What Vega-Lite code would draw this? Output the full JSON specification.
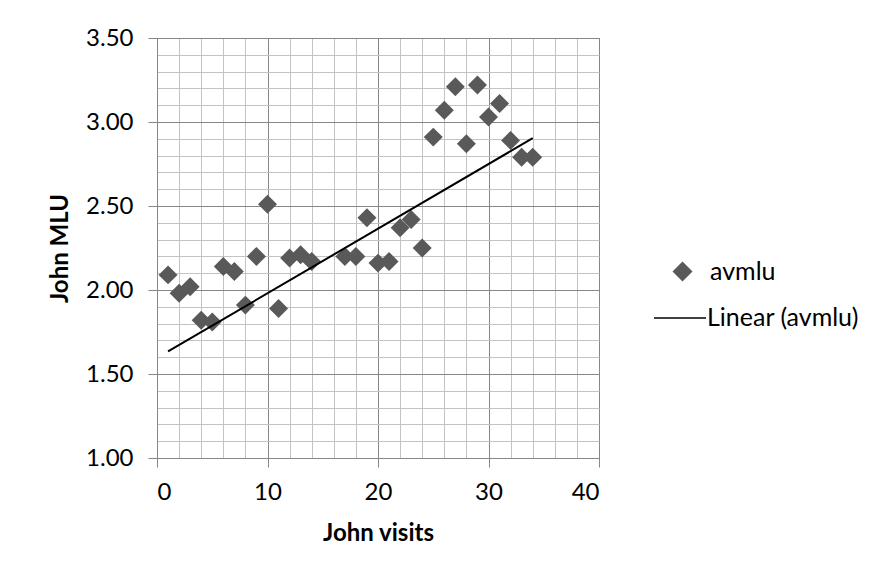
{
  "$schema": "https://vega.github.io/schema/vega-lite/v6.json",
  "autosize": {"type": "none"},
  "padding": {"left": 157, "top": 38, "right": 284, "bottom": 120},
  "width": 442,
  "height": 420,
  "background": "white",
  "config": {
    "font": "Lato",
    "view": {"stroke": "#878787", "strokeWidth": 1},
    "axis": {"labelColor": "black", "titleColor": "black", "labelFont": "Lato", "titleFont": "Lato"}
  },
  "data": {
    "values": [
      {"visit": 1, "avmlu": 2.09},
      {"visit": 2, "avmlu": 1.98},
      {"visit": 3, "avmlu": 2.02},
      {"visit": 4, "avmlu": 1.82},
      {"visit": 5, "avmlu": 1.81},
      {"visit": 6, "avmlu": 2.14},
      {"visit": 7, "avmlu": 2.11},
      {"visit": 8, "avmlu": 1.91},
      {"visit": 9, "avmlu": 2.20},
      {"visit": 10, "avmlu": 2.51},
      {"visit": 11, "avmlu": 1.89},
      {"visit": 12, "avmlu": 2.19},
      {"visit": 13, "avmlu": 2.21},
      {"visit": 14, "avmlu": 2.17},
      {"visit": 15, "avmlu": 0},
      {"visit": 16, "avmlu": 0},
      {"visit": 17, "avmlu": 2.20},
      {"visit": 18, "avmlu": 2.20},
      {"visit": 19, "avmlu": 2.43},
      {"visit": 20, "avmlu": 2.16},
      {"visit": 21, "avmlu": 2.17},
      {"visit": 22, "avmlu": 2.37},
      {"visit": 23, "avmlu": 2.42},
      {"visit": 24, "avmlu": 2.25},
      {"visit": 25, "avmlu": 2.91},
      {"visit": 26, "avmlu": 3.07},
      {"visit": 27, "avmlu": 3.21},
      {"visit": 28, "avmlu": 2.87},
      {"visit": 29, "avmlu": 3.22},
      {"visit": 30, "avmlu": 3.03},
      {"visit": 31, "avmlu": 3.11},
      {"visit": 32, "avmlu": 2.89},
      {"visit": 33, "avmlu": 2.79},
      {"visit": 34, "avmlu": 2.79}
    ]
  },
  "encoding": {
    "x": {
      "field": "visit", "type": "quantitative",
      "scale": {"domain": [0, 40], "nice": false, "zero": false},
      "axis": {
        "values": [0,2,4,6,8,10,12,14,16,18,20,22,24,26,28,30,32,34,36,38,40],
        "labelExpr": "datum.value % 10 === 0 ? datum.label : ''",
        "grid": true,
        "gridColor": {"condition": {"test": "datum.value % 10 === 0", "value": "#878787"}, "value": "#c3c3c3"},
        "gridWidth": 1,
        "tickOpacity": {"condition": {"test": "datum.value % 10 === 0", "value": 1}, "value": 0},
        "tickSize": 9,
        "tickColor": "#878787",
        "domainColor": "#878787",
        "labelFontSize": 24,
        "labelPadding": 13,
        "title": "John visits",
        "titleFontSize": 24,
        "titleFontWeight": "bold",
        "titlePadding": 17
      }
    },
    "y": {
      "field": "avmlu", "type": "quantitative",
      "scale": {"domain": [1, 3.5], "nice": false, "zero": false},
      "axis": {
        "values": [1.0,1.1,1.2,1.3,1.4,1.5,1.6,1.7,1.8,1.9,2.0,2.1,2.2,2.3,2.4,2.5,2.6,2.7,2.8,2.9,3.0,3.1,3.2,3.3,3.4,3.5],
        "format": ".2f",
        "labelExpr": "abs(datum.value*2 - round(datum.value*2)) < 0.000001 ? datum.label : ''",
        "grid": true,
        "gridColor": {"condition": {"test": "abs(datum.value*2 - round(datum.value*2)) < 0.000001", "value": "#878787"}, "value": "#c3c3c3"},
        "gridWidth": 1,
        "tickOpacity": {"condition": {"test": "abs(datum.value*2 - round(datum.value*2)) < 0.000001", "value": 1}, "value": 0},
        "tickSize": 9,
        "tickColor": "#878787",
        "domainColor": "#878787",
        "labelFontSize": 24,
        "labelPadding": 15,
        "title": "John MLU",
        "titleFontSize": 24,
        "titleFontWeight": "bold",
        "titlePadding": 13
      }
    }
  },
  "layer": [
    {
      "mark": {"type": "point", "shape": "diamond", "filled": true, "size": 360, "opacity": 1, "clip": true},
      "encoding": {
        "color": {
          "datum": "avmlu",
          "scale": {"domain": ["avmlu"], "range": ["#595959"]},
          "legend": {
            "orient": "none",
            "legendX": 513,
            "legendY": 221,
            "title": null,
            "padding": 0,
            "labelFontSize": 25,
            "labelFont": "Lato",
            "labelColor": "black",
            "labelOffset": 15,
            "symbolType": "diamond",
            "symbolSize": 400,
            "symbolOpacity": 1
          }
        }
      }
    },
    {
      "transform": [{"regression": "avmlu", "on": "visit", "extent": [1, 34]}],
      "mark": {"type": "line", "strokeWidth": 2},
      "encoding": {
        "stroke": {
          "datum": "Linear (avmlu)",
          "scale": {"domain": ["Linear (avmlu)"], "range": ["#000000"]},
          "legend": {
            "orient": "none",
            "legendX": 496,
            "legendY": 253,
            "title": null,
            "padding": 0,
            "labelFontSize": 25,
            "labelFont": "Lato",
            "labelColor": "black",
            "labelOffset": 0,
            "symbolType": "stroke",
            "symbolSize": 2704,
            "symbolStrokeWidth": 1.5
          }
        }
      }
    }
  ]
}
